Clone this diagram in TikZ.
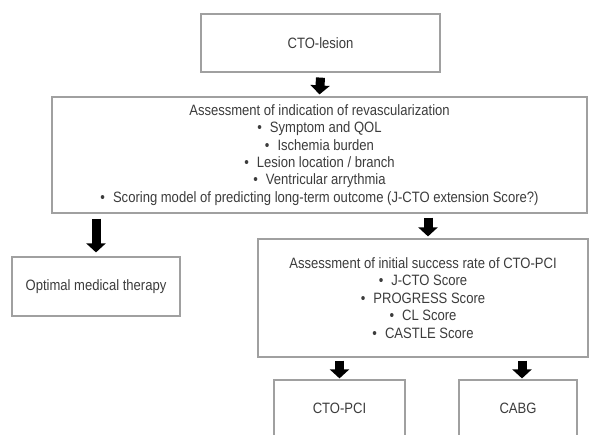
\documentclass[tikz,border=0pt]{standalone}
\usepackage{fontspec}
\setmainfont[FakeStretch=0.87]{Liberation Sans}
\usetikzlibrary{arrows.meta}
\definecolor{boxline}{HTML}{A0A0A0}
\definecolor{txt}{HTML}{3C3C3C}
\newcommand{\bul}{\textbullet\hspace{8pt}}
\begin{document}
\begin{tikzpicture}[x=1pt,y=-1pt,
  box/.style={draw=boxline,line width=1.2pt,fill=white,inner sep=0pt,align=center,
    text=txt,font=\fontsize{15}{17.4}\selectfont,anchor=center},
  barrow/.style={line width=9pt,-{Triangle[width=19pt,length=9pt]},draw=black}]
\useasboundingbox (0,0) rectangle (589,434);
\clip (0,0) rectangle (589,434);
\fill[white] (0,0) rectangle (589,434);
\node[box,minimum width=239pt,minimum height=58pt] (lesion) at (320.5,43) {CTO-lesion};
\node[box,minimum width=535pt,minimum height=116pt] (assess) at (319.5,155)
  {Assessment of indication of revascularization\\
   \bul Symptom and QOL\\
   \bul Ischemia burden\\
   \bul Lesion location / branch\\
   \bul Ventricular arrythmia\\
   \bul Scoring model of predicting long-term outcome (J-CTO extension Score?)};
\node[box,minimum width=168pt,minimum height=59pt] (omt) at (96,286.5) {Optimal medical therapy};
\node[box,minimum width=330pt,minimum height=118pt] (succ) at (423,298)
  {Assessment of initial success rate of CTO-PCI\\
   \bul J-CTO Score\\
   \bul PROGRESS Score\\
   \bul CL Score\\
   \bul CASTLE Score};
\node[box,minimum width=131pt,minimum height=56pt] (pci) at (339.5,408) {CTO-PCI};
\node[box,minimum width=118pt,minimum height=56pt] (cabg) at (518,408) {CABG};
\draw[barrow] ([yshift=-5pt]lesion.south) -- ([yshift=2pt]assess.north);
\draw[barrow] ([yshift=-5pt]assess.south -| omt.north) -- ([yshift=4pt]omt.north);
\draw[barrow] ([xshift=5pt,yshift=-4pt]assess.south -| succ.north) -- ([xshift=5pt,yshift=2pt]succ.north);
\draw[barrow] ([yshift=-3pt]succ.south -| pci.north) -- ([yshift=1pt]pci.north);
\draw[barrow] ([xshift=4pt,yshift=-3pt]succ.south -| cabg.north) -- ([xshift=4pt,yshift=1pt]cabg.north);
\end{tikzpicture}
\end{document}
